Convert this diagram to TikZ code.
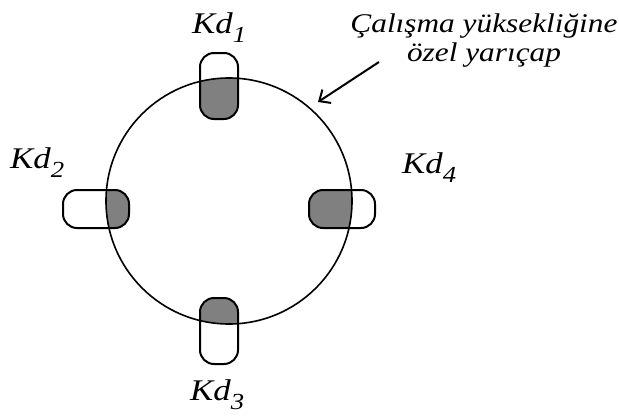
\documentclass[tikz,border=0pt]{standalone}
\usepackage{fontspec}
\setmainfont{Liberation Serif}[FakeStretch=1.16]
\usetikzlibrary{arrows.meta}
\definecolor{padgray}{RGB}{128,128,128}
\newcommand{\kdname}[1]{\textit{Kd\raisebox{-9pt}{\fontsize{23}{23}\selectfont #1}}}

\begin{document}
\begin{tikzpicture}[x=1pt, y=-1pt,
  pad/.style={draw, line width=2pt, rounded corners=14pt, fill=white, inner sep=0pt,
    path picture={\fill[padgray] (o) circle (123pt);}},
  vpad/.style={pad, minimum width=38pt, minimum height=66pt},
  hpad/.style={pad, minimum width=66pt, minimum height=38pt},
  kdtext/.style={inner sep=0pt, anchor=base west, font=\fontsize{30}{30}\selectfont},
  notetext/.style={inner sep=0pt, align=center, font=\fontsize{27}{29}\selectfont\itshape},
  pointer/.style={-{Straight Barb[length=9pt, width=16pt]}, line width=2pt}
]
\useasboundingbox (0,0) rectangle (619,418);

% Centre of the working circle
\coordinate (o) at (229,201);

% Pads (shaded where they lie inside the circle)
\node[vpad] (pad1) at (219,86) {};
\node[hpad] (pad2) at (96,209) {};
\node[vpad] (pad3) at (219,331) {};
\node[hpad] (pad4) at (342,209) {};

% Circle
\node[draw, circle, line width=1.6pt, minimum size=246pt, inner sep=0pt] (rim) at (o) {};

% Pad names
\node[kdtext] (kd1) at (192,33) {\kdname{1}};
\node[kdtext] (kd2) at (10,168) {\kdname{2}};
\node[kdtext] (kd3) at (190,400) {\kdname{3}};
\node[kdtext] (kd4) at (402,173) {\kdname{4}};

% Note with arrow
\node[notetext, anchor=north] (note) at (484,14) {Çalışma yüksekliğine\\özel yarıçap};
\coordinate (tail) at (379,62);
\coordinate (tip) at (318,102);
\draw[pointer] (tail) -- (tip);

\end{tikzpicture}
\end{document}
